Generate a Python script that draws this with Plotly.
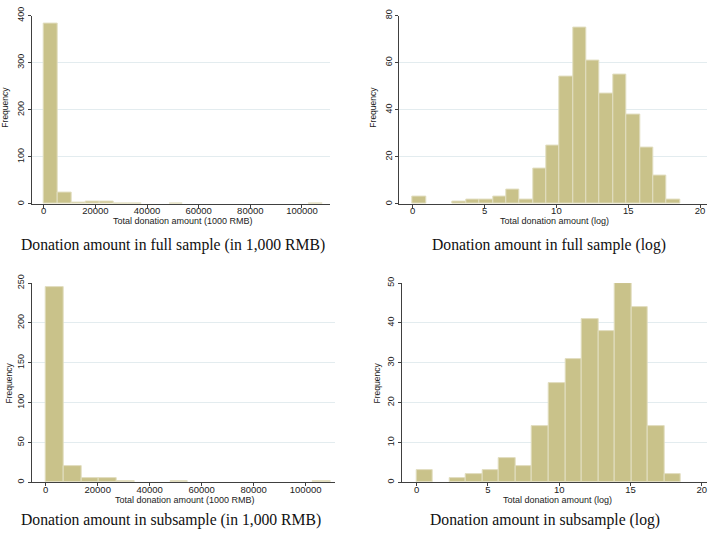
import plotly.graph_objects as go

W, H = 708, 537

# ---------------- data ----------------
# Panel 1: full sample, raw amount (1000 RMB), 20 equal bins starting at 0
full_raw_start = 0
full_raw_width = 5400
full_raw_counts = [384, 24, 4, 5, 6, 1, 1, 0, 0, 1, 0, 0, 0, 0, 0, 0, 0, 0, 0, 1]

# Panel 2: full sample, log amount, 20 bins
full_log_start = 0
full_log_width = 0.93
full_log_counts = [3, 0, 0, 1, 2, 2, 3, 6, 2, 15, 25, 54, 75, 61, 47, 55, 38, 24, 12, 2]

# Panel 3: subsample, raw amount (1000 RMB), 16 bins
sub_raw_start = 0
sub_raw_width = 6850
sub_raw_counts = [245, 20, 5, 5, 1, 0, 0, 1, 0, 0, 0, 0, 0, 0, 0, 1]

# Panel 4: subsample, log amount, 16 bins
sub_log_start = 0
sub_log_width = 1.158
sub_log_counts = [3, 0, 1, 2, 3, 6, 4, 14, 25, 31, 41, 38, 50, 44, 14, 2]

raw_xticks = [0, 20000, 40000, 60000, 80000, 100000]
raw_xtick_text = ["0", "20000", "40000", "60000", "80000", "100000"]
log_xticks = [0, 5, 10, 15, 20]
full_raw_yticks = [0, 100, 200, 300, 400]
full_log_yticks = [0, 20, 40, 60, 80]
sub_raw_yticks = [0, 50, 100, 150, 200, 250]
sub_log_yticks = [0, 10, 20, 30, 40, 50]

xtitle_raw = "Total donation amount (1000 RMB)"
xtitle_log = "Total donation amount (log)"
ytitle = "Frequency"
captions = [
    "Donation amount in full sample (in 1,000 RMB)",
    "Donation amount in full sample (log)",
    "Donation amount in subsample (in 1,000 RMB)",
    "Donation amount in subsample (log)",
]

# ---------------- style ----------------
BAR = "#c9c28a"
BAR_LINE = "#e2dec0"
GRID = "#e3ecef"
AXIS = "#404040"
SANS = "Liberation Sans, Arial, sans-serif"
SERIF = "Liberation Serif, Times New Roman, serif"


def px_x(p):
    return p / W


def px_y(p):
    return 1 - p / H


def bars(start, width, counts, xa, ya):
    xs, ys = [], []
    for i, c in enumerate(counts):
        if c > 0:
            xs.append(start + (i + 0.5) * width)
            ys.append(c)
    return go.Bar(
        x=xs, y=ys, width=width, xaxis=xa, yaxis=ya,
        marker=dict(color=BAR, line=dict(color=BAR_LINE, width=1)),
        showlegend=False, hoverinfo="x+y",
    )


fig = go.Figure()
fig.add_trace(bars(full_raw_start, full_raw_width, full_raw_counts, "x", "y"))
fig.add_trace(bars(full_log_start, full_log_width, full_log_counts, "x2", "y2"))
fig.add_trace(bars(sub_raw_start, sub_raw_width, sub_raw_counts, "x3", "y3"))
fig.add_trace(bars(sub_log_start, sub_log_width, sub_log_counts, "x4", "y4"))


def xaxis(domain, rng, tickvals, ticktext, anchor):
    return dict(
        domain=domain, range=rng, anchor=anchor,
        tickvals=tickvals, ticktext=ticktext,
        showgrid=False, zeroline=False,
        showline=True, linecolor=AXIS, linewidth=1,
        ticks="outside", ticklen=3, tickcolor=AXIS, tickwidth=1,
        ticklabelstandoff=-5,
        tickfont=dict(family=SANS, size=9.5, color="#222"),
        fixedrange=True,
    )


def yaxis(domain, rng, tickvals, anchor):
    return dict(
        domain=domain, range=rng, anchor=anchor,
        tickvals=tickvals, ticktext=[str(v) for v in tickvals],
        showgrid=True, gridcolor=GRID, gridwidth=1,
        zeroline=False,
        showline=True, linecolor=AXIS, linewidth=1,
        ticks="outside", ticklen=3, tickcolor=AXIS, tickwidth=1,
        tickangle=-90,
        tickfont=dict(family=SANS, size=9, color="#222"),
        fixedrange=True,
    )


top_dom = [px_y(198.7), px_y(6.7)]
bot_dom = [px_y(482.3), px_y(279.3)]

fig.update_layout(
    width=W, height=H,
    margin=dict(l=0, r=0, t=0, b=0),
    paper_bgcolor="white", plot_bgcolor="white",
    bargap=0,
    xaxis=xaxis([px_x(31.7), px_x(330)], [-4650, 110850], raw_xticks, raw_xtick_text, "y"),
    yaxis=yaxis(top_dom, [0, 400], full_raw_yticks, "x"),
    xaxis2=xaxis([px_x(399.3), px_x(706.7)], [-0.93, 20.46], log_xticks, [str(v) for v in log_xticks], "y2"),
    yaxis2=yaxis(top_dom, [0, 80], full_log_yticks, "x2"),
    xaxis3=xaxis([px_x(31.7), px_x(335)], [-5400, 111300], raw_xticks, raw_xtick_text, "y3"),
    yaxis3=yaxis(bot_dom, [0, 250], sub_raw_yticks, "x3"),
    xaxis4=xaxis([px_x(401.7), px_x(706.7)], [-1.05, 20.35], log_xticks, [str(v) for v in log_xticks], "y4"),
    yaxis4=yaxis(bot_dom, [0, 50], sub_log_yticks, "x4"),
)

ann = []
# x-axis titles
for (cx, cy, txt) in [(183, 216.5, xtitle_raw), (554.5, 216.5, xtitle_log),
                      (184.5, 500.5, xtitle_raw), (557, 500.5, xtitle_log)]:
    ann.append(dict(x=px_x(cx), y=px_y(cy), xref="paper", yref="paper", text=txt,
                    showarrow=False, xanchor="center", yanchor="middle",
                    font=dict(family=SANS, size=9, color="#222")))
# y-axis titles
for (cx, cy) in [(5.5, 100), (373.5, 100), (8.5, 381), (376.5, 381)]:
    ann.append(dict(x=px_x(cx), y=px_y(cy), xref="paper", yref="paper", text=ytitle,
                    showarrow=False, xanchor="center", yanchor="middle", textangle=-90,
                    font=dict(family=SANS, size=8.5, color="#222")))
# captions
for (cx, cy, txt) in [(173, 240, captions[0]), (549, 240, captions[1]),
                      (171, 521, captions[2]), (545, 521, captions[3])]:
    ann.append(dict(x=px_x(cx), y=px_y(cy), xref="paper", yref="paper", text=txt,
                    showarrow=False, xanchor="center", yanchor="middle",
                    font=dict(family=SERIF, size=15.7, color="#111")))
fig.update_layout(annotations=ann)

fig.write_html(
    "out.html",
    config={"displayModeBar": False},
    post_script=(
        "document.body.style.margin='0';document.body.style.overflow='hidden';"
        "var d=document.getElementById('{plot_id}');"
        "d.style.position='absolute';d.style.top='0px';d.style.left='0px';"
    ),
)
